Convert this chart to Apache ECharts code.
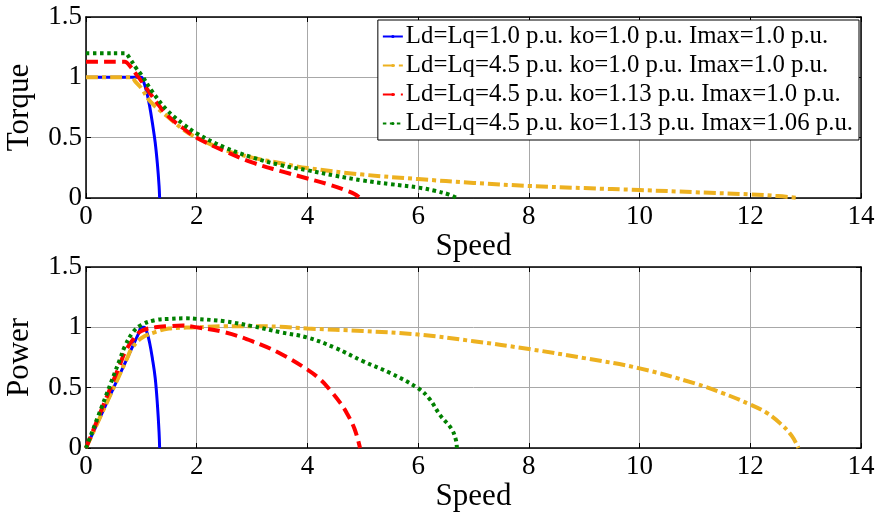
<!DOCTYPE html>
<html>
<head>
<meta charset="utf-8">
<script src="https://cdn.jsdelivr.net/npm/echarts@6/dist/echarts.min.js"></script>
<style>
html, body { margin: 0; padding: 0; background: #fff; }
#chart { width: 882px; height: 516px; }
</style>
</head>
<body>
<div id="chart"></div>
<script>
// legend names
var names = [
	'Ld=Lq=1.0 p.u. ko=1.0 p.u. Imax=1.0 p.u.',
	'Ld=Lq=4.5 p.u. ko=1.0 p.u. Imax=1.0 p.u.',
	'Ld=Lq=4.5 p.u. ko=1.13 p.u. Imax=1.0 p.u.',
	'Ld=Lq=4.5 p.u. ko=1.13 p.u. Imax=1.06 p.u.'
];
var colors = ['#0000ff', '#edb120', '#ff0000', '#008000'];

// torque vs speed, [speed, torque]
var torqueBlue = [[0,1],[0.5,1],[0.95,1],[1.0,1.0],[1.05,0.95],[1.1,0.87],[1.15,0.76],[1.2,0.62],[1.25,0.46],[1.29,0.28],[1.32,0.1],[1.33,0]];
var torqueOrange = [[0,1],[0.4,1],[0.75,1],[0.82,1],[0.9,0.96],[1.0,0.91],[1.16,0.8],[1.46,0.68],[1.75,0.57],[2,0.5],[2.5,0.4],[3,0.335],[3.5,0.29],[4,0.248],[5,0.194],[6,0.157],[7,0.125],[8,0.1],[9,0.082],[10,0.066],[11,0.048],[12,0.03],[12.5,0.016],[12.87,0]];
var torqueRed = [[0,1.13],[0.35,1.13],[0.62,1.13],[0.7,1.13],[0.8,1.09],[0.9,1.03],[1.0,0.97],[1.2,0.84],[1.46,0.69],[1.75,0.58],[2,0.5],[2.5,0.39],[3,0.295],[3.5,0.225],[4,0.162],[4.4,0.11],[4.7,0.062],[4.85,0.033],[4.95,0]];
var torqueGreen = [[0,1.2],[0.35,1.2],[0.62,1.2],[0.7,1.2],[0.8,1.15],[0.9,1.08],[1.0,1.02],[1.2,0.88],[1.46,0.73],[1.75,0.615],[2,0.535],[2.5,0.42],[3,0.337],[3.5,0.274],[4,0.23],[4.5,0.185],[5,0.145],[5.5,0.115],[6,0.087],[6.3,0.06],[6.55,0.03],[6.7,0]];

// power vs speed, [speed, power]
var powerBlue = [[0,0],[0.5,0.5],[0.95,0.95],[1.0,1.0],[1.05,1.0],[1.1,0.96],[1.15,0.87],[1.2,0.74],[1.25,0.58],[1.29,0.36],[1.32,0.13],[1.33,0]];
var powerOrange = [[0,0],[0.4,0.4],[0.75,0.75],[0.82,0.82],[1,0.91],[1.25,0.96],[1.5,0.99],[2,1.0],[2.5,1.01],[3,1.01],[3.5,1.005],[4,0.99],[5,0.97],[6,0.94],[7,0.885],[8,0.82],[9,0.745],[10,0.66],[11,0.535],[11.5,0.455],[12,0.36],[12.3,0.29],[12.55,0.2],[12.75,0.1],[12.87,0]];
var powerRed = [[0,0],[0.35,0.395],[0.62,0.7],[0.7,0.79],[0.85,0.9],[1,0.97],[1.25,1.0],[1.5,1.01],[1.75,1.015],[2,1.0],[2.5,0.96],[3,0.885],[3.5,0.785],[4,0.65],[4.25,0.56],[4.41,0.48],[4.6,0.37],[4.71,0.29],[4.85,0.16],[4.95,0]];
var powerGreen = [[0,0],[0.35,0.42],[0.62,0.744],[0.7,0.84],[0.85,0.96],[1,1.02],[1.25,1.06],[1.5,1.07],[1.8,1.075],[2,1.07],[2.5,1.05],[3,1.01],[3.5,0.96],[4,0.915],[4.5,0.83],[5,0.72],[5.5,0.62],[6,0.495],[6.2,0.41],[6.4,0.27],[6.6,0.16],[6.68,0.07],[6.7,0]];

var lineTypes = ['solid', [12, 4, 4, 4], [12, 6], [3.5, 3.5]];
var lineWidths = [3, 4, 4, 4];

var font = 'Liberation Serif';

function makeX(grid, pos, show) {
	return {
		type: 'value', gridIndex: grid, position: pos, min: 0, max: 14, interval: 2,
		name: show ? 'Speed' : '', nameLocation: 'middle', nameGap: 33,
		nameTextStyle: { fontFamily: font, fontSize: 31, color: '#000' },
		axisLine: { show: true, onZero: false, lineStyle: { color: '#000', width: 1.5 } },
		axisTick: { show: true, inside: true, length: 5, lineStyle: { color: '#000' } },
		axisLabel: { show: show, fontFamily: font, fontSize: 27, color: '#000', margin: 5 },
		splitLine: { show: show, lineStyle: { color: '#a8a8a8', width: 1 } }
	};
}

function makeY(grid, pos, show, title) {
	return {
		type: 'value', gridIndex: grid, position: pos, min: 0, max: 1.5, interval: 0.5,
		name: show ? title : '', nameLocation: 'middle', nameGap: 51,
		nameTextStyle: { fontFamily: font, fontSize: 31, color: '#000' },
		axisLine: { show: true, onZero: false, lineStyle: { color: '#000', width: 1.5 } },
		axisTick: { show: true, inside: true, length: 5, lineStyle: { color: '#000' } },
		axisLabel: { show: show, fontFamily: font, fontSize: 27, color: '#000', margin: 4 },
		splitLine: { show: show, lineStyle: { color: '#a8a8a8', width: 1 } }
	};
}

function makeSeries(i, data, xi, yi) {
	return {
		name: names[i], type: 'line', data: data, xAxisIndex: xi, yAxisIndex: yi,
		showSymbol: false, symbol: 'none', smooth: 0.4,
		animation: false, z: 2 + i,
		lineStyle: { color: colors[i], width: lineWidths[i], type: lineTypes[i] },
		itemStyle: { color: colors[i] }
	};
}

var torqueData = [torqueBlue, torqueOrange, torqueRed, torqueGreen];
var powerData = [powerBlue, powerOrange, powerRed, powerGreen];
var series = [];
for (var i = 0; i < 4; i++) {
	series.push(makeSeries(i, torqueData[i], 0, 0));
}
for (var i = 0; i < 4; i++) {
	series.push(makeSeries(i, powerData[i], 2, 2));
}

var chart = echarts.init(document.getElementById('chart'));
chart.setOption({
	backgroundColor: '#fff',
	animation: false,
	grid: [
		{ left: 86, right: 21, top: 17, height: 181, outerBoundsMode: 'none' },
		{ left: 86, right: 21, top: 267, height: 181, outerBoundsMode: 'none' }
	],
	legend: {
		data: names, orient: 'vertical', right: 23, top: 20,
		itemWidth: 20, itemHeight: 4, itemGap: 4,
		padding: [4, 6, 4, 4],
		borderColor: '#000', borderWidth: 1, backgroundColor: '#fff',
		textStyle: { fontFamily: font, fontSize: 24.8, color: '#000', padding: [0, 0, 0, -2] },
		z: 10
	},
	xAxis: [makeX(0, 'bottom', true), makeX(0, 'top', false), makeX(1, 'bottom', true), makeX(1, 'top', false)],
	yAxis: [makeY(0, 'left', true, 'Torque'), makeY(0, 'right', false), makeY(1, 'left', true, 'Power'), makeY(1, 'right', false)],
	series: series
});
</script>
</body>
</html>
